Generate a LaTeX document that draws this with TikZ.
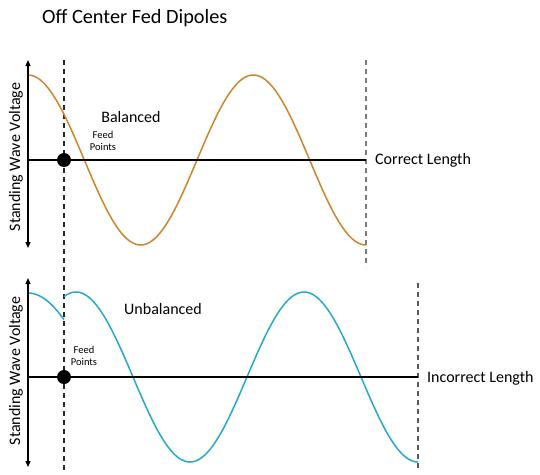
\documentclass[tikz,border=0pt]{standalone}
\usepackage{fontspec}
\setmainfont{Carlito}
\usetikzlibrary{arrows.meta}
\definecolor{waveorange}{RGB}{206,132,44}
\definecolor{waveblue}{RGB}{38,168,204}
\definecolor{dashgray}{RGB}{90,90,90}
\tikzset{
  axisline/.style={line width=1.2pt, -{Triangle[length=6pt,width=5pt]}},
  baseline/.style={line width=2.8pt, black},
  dashln/.style={line width=1.1pt, dash pattern=on 5pt off 4pt},
  dotnode/.style={circle, fill=black, inner sep=0pt, minimum size=14pt},
  lbl/.style={font=\fontsize{16}{18}\selectfont, inner sep=0pt},
  small/.style={font=\fontsize{10.5}{12}\selectfont, inner sep=0pt, align=center},
  wave/.style={line width=1.5pt},
}
\begin{document}
\begin{tikzpicture}[x=1pt, y=-1pt]
\useasboundingbox (0,0) rectangle (540,474);
% title
\node[font=\fontsize{20.3}{23}\selectfont, anchor=west, inner sep=0pt] (title) at (42,18) {Off Center Fed Dipoles};
% coordinates
\coordinate (ta) at (28,160);
\coordinate (ttop) at (28,60);
\coordinate (tbot) at (28,248);
\coordinate (ba) at (28,377);
\coordinate (btop) at (28,278);
\coordinate (bbot) at (28,467);
\coordinate (fdtop) at (64,60);
\coordinate (fdbot) at (64,470);
\coordinate (rtT) at (366,60);
\coordinate (rtB) at (366,267);
\coordinate (rbT) at (418,283);
\coordinate (rbB) at (418,470);
\coordinate (tend) at (366,160);
\coordinate (bend) at (418,377);
% dashed lines
\draw[dashln, black!85] (fdtop) -- (fdbot);
\draw[dashln, dashgray!80] (rtT) -- (rtB);
\draw[dashln, dashgray] (rbT) -- (rbB);
% waves
\draw[wave, waveorange] plot[domain=28:366, samples=200] (\x, {160-85*cos(1.59763*(\x-28))});
\draw[wave, waveblue] plot[domain=28:64, samples=40] (\x, {377-84*cos(1.30435*(\x-28))});
\draw[wave, waveblue] plot[domain=64:418, samples=220] (\x, {377-85*cos(1.57895*(\x-76))});
% axes
\draw[axisline] (ta) -- (ttop);
\draw[axisline] (ta) -- (tbot);
\draw[axisline] (ba) -- (btop);
\draw[axisline] (ba) -- (bbot);
% base lines
\draw[baseline] (ta) -- (tend);
\draw[baseline] (ba) -- (bend);
% dots
\node[dotnode] (dt) at (64,160) {};
\node[dotnode] (db) at (64,377) {};
% labels
\node[lbl] (bal) at (131,117) {Balanced};
\node[lbl] (unbal) at (163,309) {Unbalanced};
\node[lbl, anchor=west] (corr) at (375,160) {Correct Length};
\node[lbl, anchor=west] (incorr) at (427,378) {Incorrect Length};
\node[small] (fpt) at (103,141) {Feed\\Points};
\node[small] (fpb) at (84,356) {Feed\\Points};
\node[lbl, rotate=90] (svt) at (16,157) {Standing Wave Voltage};
\node[lbl, rotate=90] (svb) at (16,371) {Standing Wave Voltage};
\end{tikzpicture}
\end{document}
